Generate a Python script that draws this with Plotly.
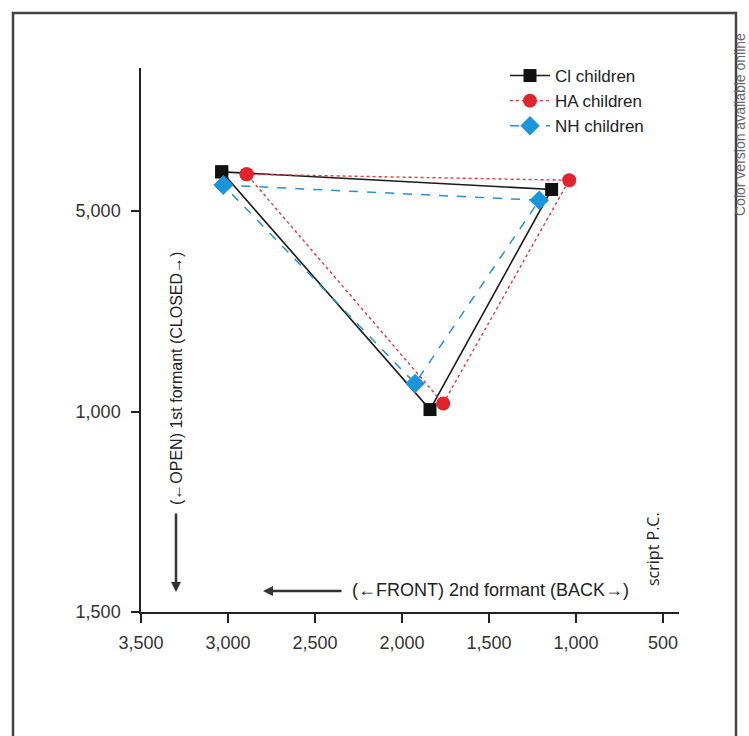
import plotly.graph_objects as go

# Vowel corners: top-left, right, bottom (2nd formant on x, 1st formant on y)
ci_f2 = [3036, 1140, 1839]
ci_f1 = [402, 446, 995]
ha_f2 = [2893, 1039, 1763]
ha_f1 = [408, 423, 980]
nh_f2 = [3027, 1211, 1925]
nh_f1 = [435, 473, 930]

x_ticks = [3500, 3000, 2500, 2000, 1500, 1000, 500]
x_tick_labels = ["3,500", "3,000", "2,500", "2,000", "1,500", "1,000", "500"]
y_ticks = [500, 1000, 1500]
y_tick_labels = ["5,000", "1,000", "1,500"]

FONT = "Liberation Sans, Arial, sans-serif"

def closed(v):
    return list(v) + [v[0]]

# plot-area pixel geometry (used only for placing decorations)
L, R, T, B = 141, 679, 68, 612
W, H = R - L, B - T
def px(x):
    return (x - L) / W
def py(y):
    return (B - y) / H

fig = go.Figure()
fig.add_trace(go.Scatter(
    x=closed(ci_f2), y=closed(ci_f1), mode="lines+markers", name="Cl children",
    line=dict(color="#1a1a1a", width=1.6, dash="solid"),
    marker=dict(symbol="square", size=13, color="#111111"),
))
fig.add_trace(go.Scatter(
    x=closed(ha_f2), y=closed(ha_f1), mode="lines+markers", name="HA children",
    line=dict(color="#e8363c", width=1.4, dash="dot"),
    marker=dict(symbol="circle", size=14, color="#e3232b"),
))
fig.add_trace(go.Scatter(
    x=closed(nh_f2), y=closed(nh_f1), mode="lines+markers", name="NH children",
    line=dict(color="#2a8fd0", width=1.5, dash="dash"),
    marker=dict(symbol="diamond", size=15, color="#1a95dc"),
))

annotations = [
    dict(text="(\u2190FRONT) 2nd formant (BACK\u2192)", x=px(350), y=py(590),
         xref="paper", yref="paper", xanchor="left", yanchor="middle",
         showarrow=False, font=dict(size=18, color="#222", family=FONT)),
    dict(text="", x=px(263), y=py(591), xref="paper", yref="paper",
         ax=80, ay=0, showarrow=True, arrowhead=2, arrowsize=0.8,
         arrowwidth=2.5, arrowcolor="#333"),
    dict(text="(\u2190OPEN) 1st formant (CLOSED\u2192)", x=px(176), y=py(379),
         xref="paper", yref="paper", xanchor="center", yanchor="middle",
         textangle=-90, showarrow=False,
         font=dict(size=16, color="#222", family=FONT)),
    dict(text="", x=px(176), y=py(592), xref="paper", yref="paper",
         ax=0, ay=-80, showarrow=True, arrowhead=2, arrowsize=0.8,
         arrowwidth=2.5, arrowcolor="#333"),
    dict(text="script P.C.", x=px(653), y=py(549), xref="paper", yref="paper",
         xanchor="center", yanchor="middle", textangle=-90, showarrow=False,
         font=dict(size=16, color="#222", family="Open Sans, sans-serif")),
    dict(text="Color version available online", x=px(740), y=py(125),
         xref="paper", yref="paper", xanchor="center", yanchor="middle",
         textangle=-90, showarrow=False,
         font=dict(size=14, color="#666", family=FONT)),
]

shapes = [
    dict(type="rect", xref="paper", yref="paper",
         x0=px(13), x1=px(736), y0=py(760), y1=py(13),
         line=dict(color="#444", width=2.5), fillcolor="rgba(0,0,0,0)", layer="below"),
]

fig.update_layout(
    width=749, height=736,
    margin=dict(l=L, r=749 - R, t=T, b=736 - B),
    paper_bgcolor="white", plot_bgcolor="white",
    font=dict(family=FONT, size=18, color="#222"),
    showlegend=True,
    legend=dict(x=px(505), y=py(58), xanchor="left", yanchor="top",
                bgcolor="rgba(0,0,0,0)", font=dict(size=17, color="#222"),
                tracegroupgap=0, itemwidth=40),
    annotations=annotations,
    shapes=shapes,
    xaxis=dict(range=[3500, 408], tickvals=x_ticks, ticktext=x_tick_labels,
               showgrid=False, zeroline=False, showline=True, linecolor="#222",
               linewidth=1.5, ticks="outside", ticklen=9, tickwidth=1.5,
               tickcolor="#222", ticklabelstandoff=5,
               tickfont=dict(size=18, color="#333")),
    yaxis=dict(range=[1500, 143], tickvals=y_ticks, ticktext=y_tick_labels,
               showgrid=False, zeroline=False, showline=True, linecolor="#222",
               linewidth=1.5, ticks="outside", ticklen=8, tickwidth=1.5,
               tickcolor="#222", ticklabelstandoff=7,
               tickfont=dict(size=18, color="#333")),
)

fig.write_html("out.html", config={"displayModeBar": False},
               post_script="document.body.style.margin='0';document.body.style.overflow='hidden';")
